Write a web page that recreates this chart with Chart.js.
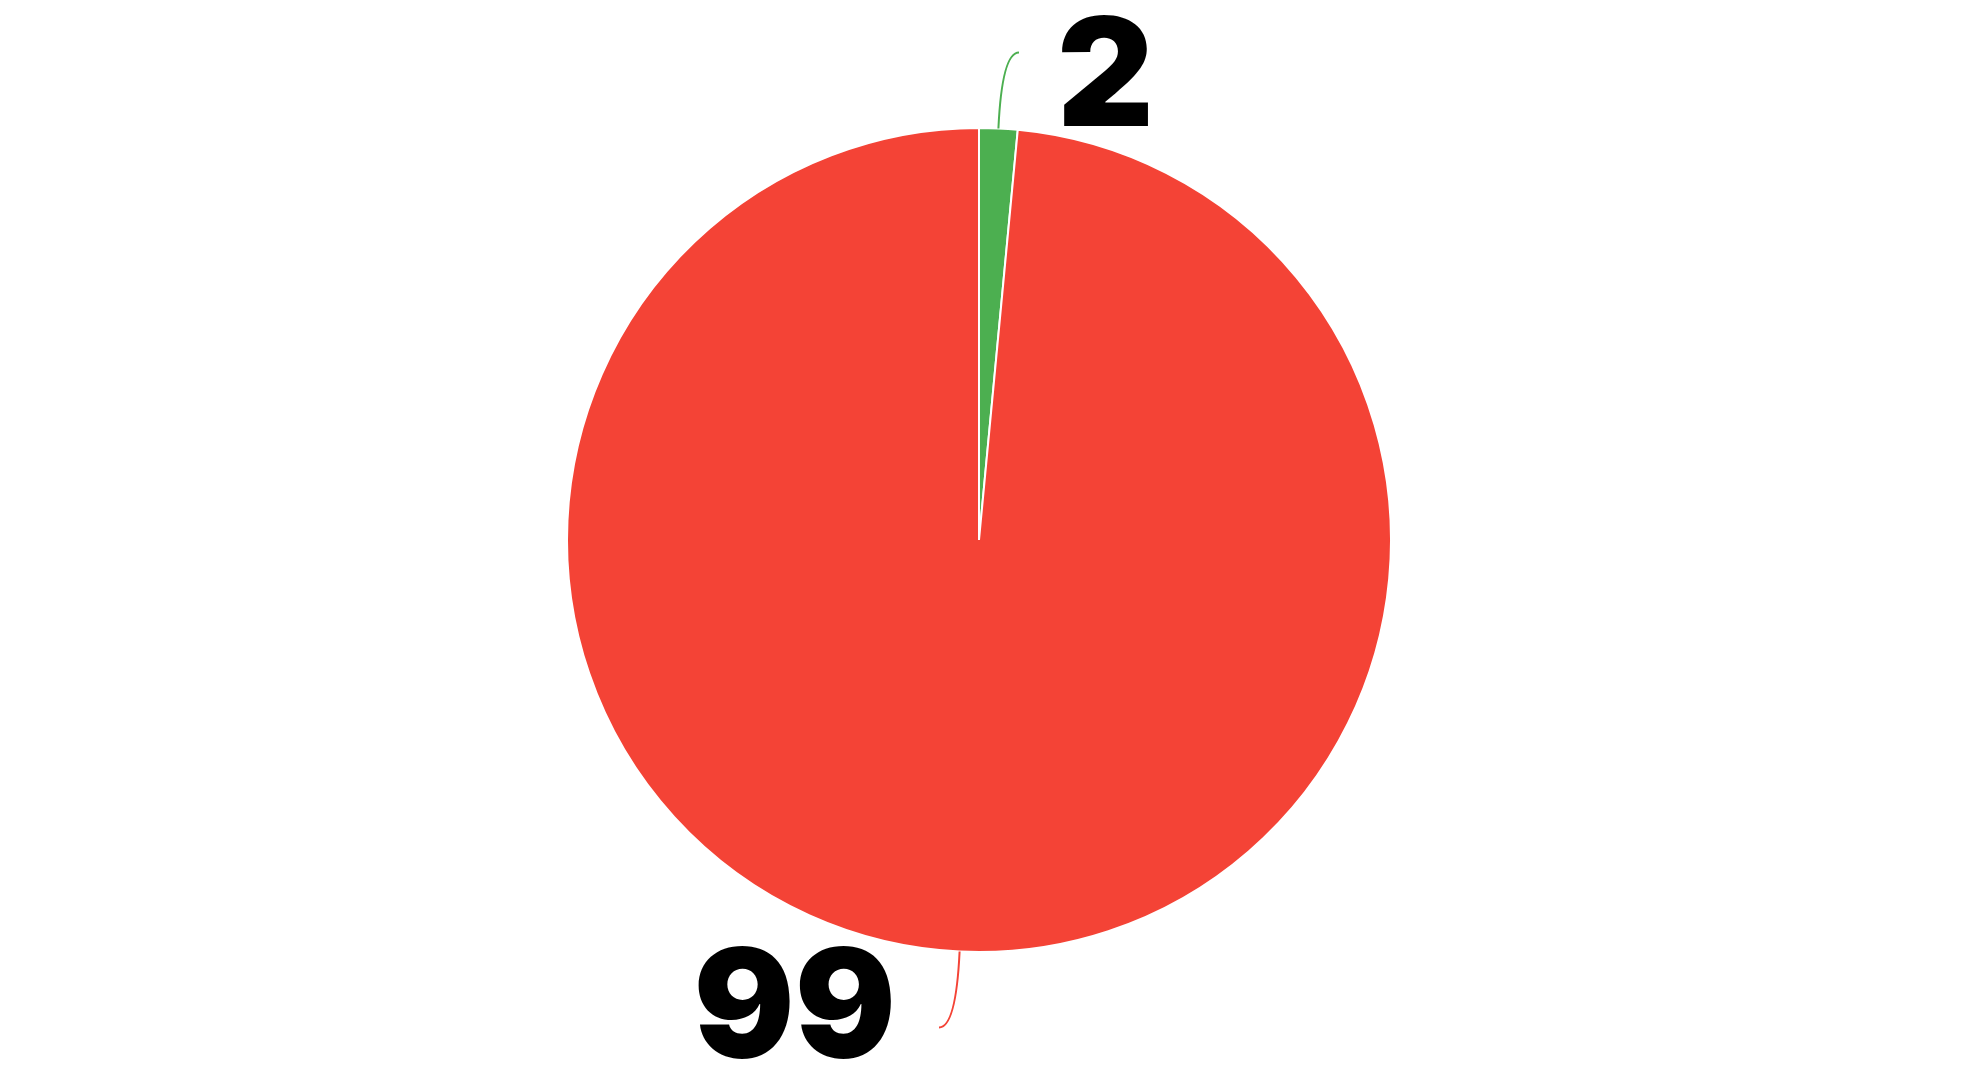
<!DOCTYPE html>
<html>
<head>
<meta charset="utf-8">
<script src="https://cdn.jsdelivr.net/npm/chart.js@4"></script>
<style>
  html, body { margin: 0; padding: 0; background: #fff; }
  #wrap { width: 1981px; height: 1080px; }
</style>
</head>
<body>
<div id="wrap"><canvas id="myChart" width="1981" height="1080"></canvas></div>
<script>
var categories = ["A", "B"];
var values = [1.5, 98.5];
var colors = ["#4CAF50", "#F44336"];

// leader lines + big value labels
var leaderLabels = {
  id: "leaderLabels",
  afterDatasetsDraw: function (chart) {
    var ctx = chart.ctx;
    var meta = chart.getDatasetMeta(0);
    meta.data.forEach(function (arc, i) {
      var a = (arc.startAngle + arc.endAngle) / 2;
      var cx = arc.x, cy = arc.y, r = arc.outerRadius;
      var dx = Math.cos(a), dy = Math.sin(a);
      var x0 = cx + dx * r, y0 = cy + dy * r;
      var len = 76;
      var xc = x0 + dx * len, yc = y0 + dy * len;
      var side = dx >= 0 ? 1 : -1;
      var x1 = xc + side * 17, y1 = yc;
      ctx.save();
      ctx.strokeStyle = colors[i];
      ctx.lineWidth = 2;
      ctx.beginPath();
      ctx.moveTo(x0, y0);
      ctx.quadraticCurveTo(xc, yc, x1, y1);
      ctx.stroke();
      ctx.fillStyle = "#000";
      ctx.font = "900 150px Inter";
      ctx.textBaseline = "alphabetic";
      ctx.textAlign = side > 0 ? "left" : "right";
      var tx = x1 + side * (side > 0 ? 38 : 43);
      var ty = y1 + (dy < 0 ? 73 : 30);
      ctx.fillText(String(Math.round(values[i])), tx, ty);
      ctx.restore();
    });
  },
};

var ctx1 = document.getElementById("myChart").getContext("2d");
var myChart1 = new Chart(ctx1, {
  type: "pie",
  data: {
    labels: categories,
    datasets: [
      {
        data: values,
        backgroundColor: colors,
        borderColor: "#fff",
        borderWidth: 2,
      },
    ],
  },
  options: {
    responsive: false,
    animation: false,
    layout: { padding: { top: 127, bottom: 127, left: 0, right: 23 } },
    plugins: { legend: { display: false }, tooltip: { enabled: false } },
  },
  plugins: [leaderLabels],
});
</script>
</body>
</html>
